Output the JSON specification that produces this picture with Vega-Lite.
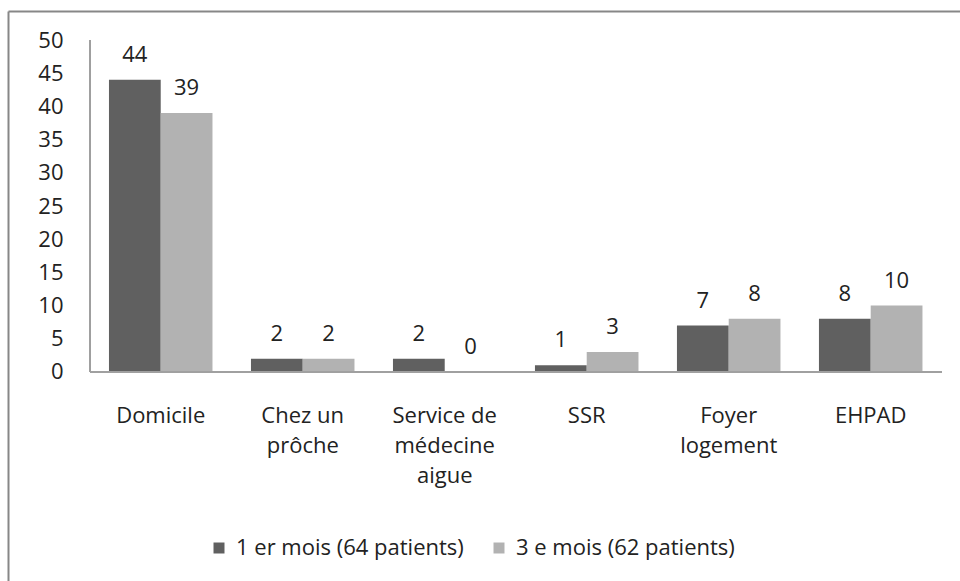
{
  "$schema": "https://vega.github.io/schema/vega-lite/v6.json",
  "width": 952,
  "height": 570,
  "autosize": "none",
  "padding": {"left": 8, "top": 11, "right": 0, "bottom": 0},
  "background": "white",
  "config": {"view": {"stroke": null}, "font": "Open Sans"},
  "data": {
    "values": [
      {"category": "Domicile", "series": "1 er mois (64 patients)", "value": 44},
      {"category": "Domicile", "series": "3 e mois (62 patients)", "value": 39},
      {"category": "Chez un prôche", "series": "1 er mois (64 patients)", "value": 2},
      {"category": "Chez un prôche", "series": "3 e mois (62 patients)", "value": 2},
      {"category": "Service de médecine aigue", "series": "1 er mois (64 patients)", "value": 2},
      {"category": "Service de médecine aigue", "series": "3 e mois (62 patients)", "value": 0},
      {"category": "SSR", "series": "1 er mois (64 patients)", "value": 1},
      {"category": "SSR", "series": "3 e mois (62 patients)", "value": 3},
      {"category": "Foyer logement", "series": "1 er mois (64 patients)", "value": 7},
      {"category": "Foyer logement", "series": "3 e mois (62 patients)", "value": 8},
      {"category": "EHPAD", "series": "1 er mois (64 patients)", "value": 8},
      {"category": "EHPAD", "series": "3 e mois (62 patients)", "value": 10}
    ]
  },
  "layer": [
    {
      "mark": {"type": "bar"},
      "encoding": {
        "x": {
          "field": "category", "type": "nominal", "sort": null,
          "scale": {"type": "band", "paddingInner": 0.271, "paddingOuter": 0.4877, "align": 0.729},
          "axis": {
            "orient": "top", "title": null, "domain": true, "domainColor": "#878787", "domainWidth": 2,
            "ticks": false, "tickSize": 0, "labelPadding": -394, "labelBaseline": "top",
            "labelFont": "Open Sans", "labelFontSize": 22, "labelColor": "#222222", "labelLineHeight": 30,
            "labelOverlap": false, "labelAngle": 0, "labelLimit": 0,
            "labelExpr": "datum.value == 'Chez un prôche' ? ['Chez un','prôche'] : datum.value == 'Service de médecine aigue' ? ['Service de','médecine','aigue'] : datum.value == 'Foyer logement' ? ['Foyer','logement'] : datum.value"
          }
        },
        "xOffset": {"field": "series", "type": "nominal", "scale": {"paddingInner": 0, "paddingOuter": 0}},
        "y": {
          "field": "value", "type": "quantitative",
          "scale": {"domain": [-31.48, 54.37], "nice": false, "zero": false},
          "axis": {
            "orient": "left", "title": null, "values": [0, 5, 10, 15, 20, 25, 30, 35, 40, 45, 50],
            "domain": true, "domainColor": "#878787", "domainWidth": 2,
            "ticks": false, "tickSize": 0, "labelPadding": -55, "grid": false,
            "labelFont": "Open Sans", "labelFontSize": 22, "labelColor": "#222222",
            "labelOverlap": false, "labelFlush": false
          }
        },
        "y2": {"datum": 0},
        "color": {
          "field": "series", "type": "nominal",
          "scale": {"range": ["#606060", "#b2b2b2"]},
          "legend": {
            "orient": "none", "legendX": 200, "legendY": 526, "direction": "horizontal", "title": null,
            "symbolType": "square", "symbolSize": 121, "symbolStrokeWidth": 0,
            "labelFont": "Open Sans", "labelFontSize": 22, "labelColor": "#222222", "labelLimit": 0,
            "columnPadding": 24, "labelOffset": 6, "padding": 0
          }
        }
      }
    },
    {
      "mark": {"type": "text", "baseline": "alphabetic", "dy": -18, "fontSize": 22, "font": "Open Sans", "color": "#222222"},
      "encoding": {
        "x": {"field": "category", "type": "nominal", "sort": null},
        "xOffset": {"field": "series", "type": "nominal"},
        "y": {"field": "value", "type": "quantitative"},
        "text": {"field": "value", "type": "quantitative"}
      }
    },
    {
      "mark": {"type": "rule", "color": "#a0a0a0", "strokeWidth": 1.5},
      "encoding": {
        "x": {"datum": "Domicile", "bandPosition": -0.1836},
        "y": {"datum": 0},
        "y2": {"datum": 50}
      }
    },
    {
      "mark": {"type": "rule", "color": "#a0a0a0", "strokeWidth": 1.5},
      "encoding": {
        "y": {"datum": 0},
        "x": {"datum": "Domicile", "bandPosition": -0.1836},
        "x2": {"datum": "EHPAD", "bandPosition": 1.188}
      }
    }
  ]
}
